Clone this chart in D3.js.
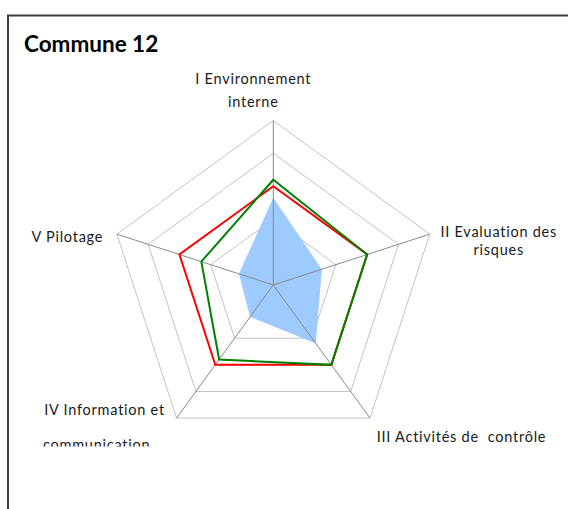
<!DOCTYPE html>
<html>
<head>
<meta charset="utf-8">
<script src="https://cdn.jsdelivr.net/npm/d3@7"></script>
<style>
    body { margin: 0; background: #fff; }
    text { font-family: Lato, "Open Sans", sans-serif; fill: #1a1a1a; }
</style>
</head>
<body>
<script>
// axes of the radar, one label line per entry
let categories = ['I Environnement interne', 'II Evaluation des risques', 'III Activités de contrôle',
    'IV Information et communication', 'V Pilotage']
let labelLines = [
    ['I Environnement', 'interne'],
    ['II Evaluation des', 'risques'],
    ['III Activités de  contrôle'],
    ['IV Information et', 'communication'],
    ['V Pilotage']
]
let levels = [1, 2, 3, 4, 5]
// series values
let communeValues = [2.65, 1.55, 2.2, 1.2, 1.1]
let moyenneValues = [3.2, 3.0, 3.0, 2.8, 2.3]
let cibleValues = [3, 3, 3, 3, 3]

{
    let width = 568
    let height = 509
    let cx = 273.3
    let cy = 285
    let R = 164.5

    let svg = d3.select('body').append('svg')
        .attr('width', width)
        .attr('height', height)

    // chart frame (runs off the picture to the right and bottom)
    svg.append('rect')
        .attr('x', 8)
        .attr('y', 15.5)
        .attr('width', 700)
        .attr('height', 700)
        .attr('fill', 'none')
        .attr('stroke', '#3f3f3f')
        .attr('stroke-width', 2)

    svg.append('text')
        .attr('x', 24)
        .attr('y', 51.5)
        .attr('font-size', 22.5)
        .attr('font-weight', 'bold')
        .style('fill', '#000')
        .text('Commune 12')

    let r = d3.scaleLinear().domain([0, 5]).range([0, R])
    let angle = d3.scalePoint().domain(categories).range([0, 2 * Math.PI * 4 / 5])

    let g = svg.append('g').attr('transform', `translate(${cx},${cy})`)

    let radial = d3.lineRadial()
        .angle((d, i) => angle(categories[i]))
        .radius(d => r(d))
        .curve(d3.curveLinearClosed)

    // rings
    g.selectAll('path.ring').data(levels)
        .enter()
        .append('path')
        .attr('class', 'ring')
        .attr('d', l => radial(categories.map(() => l)))
        .attr('fill', 'none')
        .attr('stroke', '#c3c3c3')
        .attr('stroke-width', 1)

    // filled series
    g.append('path')
        .attr('d', radial(communeValues))
        .attr('fill', '#9dcbff')
        .attr('stroke', 'none')

    // spokes
    let point = (c, v) => {
        let a = angle(c)
        return [Math.sin(a) * r(v), -Math.cos(a) * r(v)]
    }
    g.selectAll('line.spoke').data(categories)
        .enter()
        .append('line')
        .attr('class', 'spoke')
        .attr('x1', 0)
        .attr('y1', 0)
        .attr('x2', c => point(c, 5)[0])
        .attr('y2', c => point(c, 5)[1])
        .attr('stroke', '#888')
        .attr('stroke-width', 1)

    g.append('path')
        .attr('d', radial(cibleValues))
        .attr('fill', 'none')
        .attr('stroke', '#ff0000')
        .attr('stroke-width', 2)

    g.append('path')
        .attr('d', radial(moyenneValues))
        .attr('fill', 'none')
        .attr('stroke', '#008000')
        .attr('stroke-width', 2)

    // axis labels, offsets from each outer vertex
    let labelPos = [
        {dx: -20, dy: -36.5, lead: 23.3, anchor: 'middle'},
        {dx: 69, dy: 2.7, lead: 18.3, anchor: 'middle'},
        {dx: 6.7, dy: 24.3, lead: 0, anchor: 'start'},
        {dx: -72, dy: -2.7, lead: 35, anchor: 'middle', shift: [0, -8]},
        {dx: -49.5, dy: 7.7, lead: 0, anchor: 'middle'}
    ]
    svg.append('clipPath').attr('id', 'plotclip')
        .append('rect')
        .attr('x', 0).attr('y', 0).attr('width', width).attr('height', 446.5)

    let labels = svg.append('g').attr('clip-path', 'url(#plotclip)')
    categories.forEach((c, i) => {
        let p = point(c, 5)
        let pos = labelPos[i]
        labelLines[i].forEach((t, k) => {
            let sx = pos.shift ? pos.shift[k] : 0
            labels.append('text')
                .attr('x', cx + p[0] + pos.dx + sx)
                .attr('y', cy + p[1] + pos.dy + k * pos.lead)
                .attr('text-anchor', pos.anchor)
                .attr('font-size', 14.5)
                .attr('letter-spacing', 0.75)
                .style('white-space', 'pre')
                .text(t)
        })
    })
}
</script>
</body>
</html>
